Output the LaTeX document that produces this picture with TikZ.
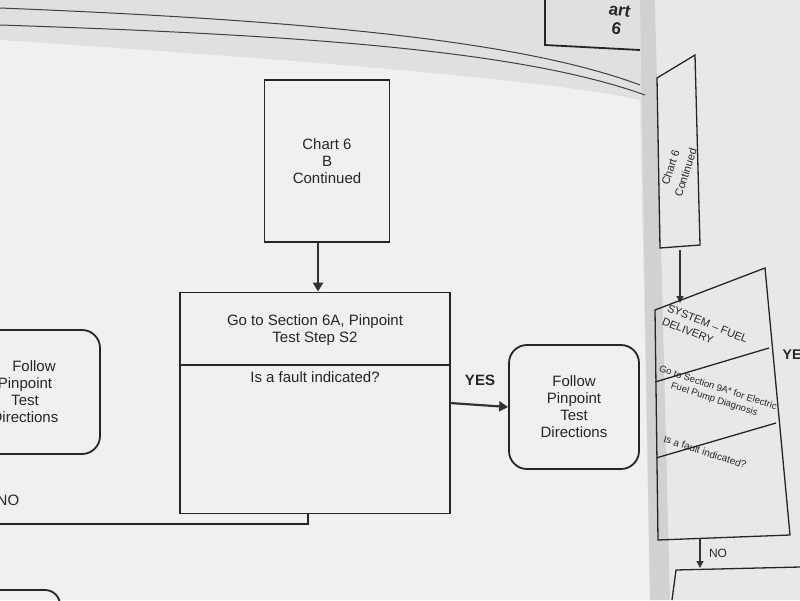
\documentclass[tikz,border=0pt]{standalone}
\usepackage{fontspec}
\setmainfont{Liberation Sans}
\usetikzlibrary{arrows.meta}
\begin{document}
\begin{tikzpicture}[x=1pt,y=-1pt,
  box/.style={draw=black!85,line width=1.8pt},
  pbox/.style={draw=black!85,line width=1.3pt},
  txt/.style={font=\fontsize{15}{17}\selectfont,align=center,text=black!85},
  stxt/.style={font=\fontsize{11}{14}\selectfont,align=center,text=black!85},
  arr/.style={line width=2.2pt,draw=black!80,-{Triangle[length=9pt,width=10pt]}},
  sarr/.style={line width=1.3pt,draw=black!80,-{Triangle[length=7pt,width=7pt]}}]
\useasboundingbox (0,0) rectangle (800,600);
\fill[black!12] (0,0) rectangle (800,600);
\fill[black!6] (0,40) .. controls (300,60) and (550,80) .. (640,100) -- (650,600) -- (0,600) -- cycle;
\fill[black!18] (640,0) -- (655,0) -- (670,600) -- (650,600) -- cycle;
\fill[black!9] (655,0) -- (800,0) -- (800,600) -- (670,600) -- cycle;
% page curves
\draw[black!75,line width=1pt] (0,8) .. controls (300,20) and (520,40) .. (640,85);
\draw[black!75,line width=1pt] (0,25) .. controls (300,35) and (520,50) .. (645,95);
% top box
\draw[box] (545,0) -- (545,45) -- (640,50);
\node[txt,font=\bfseries\fontsize{17}{19}\selectfont,rotate=-10] (tp) at (618,20) {art\\6};
% chart 6 B
\node[box,txt,minimum width=125pt,minimum height=162pt] (c6) at (327,161) {Chart 6\\B\\Continued};
% main decision box
\node[box,minimum width=270pt,minimum height=221pt] (dec) at (315,403) {};
\draw[box] (180,365) -- (450,365);
\node[txt] (t1) at (315,330) {Go to Section 6A, Pinpoint\\Test Step S2};
\node[txt,anchor=north] (t2) at (315,368) {Is a fault indicated?};
\coordinate (ca) at (318,243);
\draw[arr] (ca) -- (ca|-dec.north);
% yes box
\node[box,rounded corners=18pt,txt,minimum width=130pt,minimum height=124pt] (yes) at (574,407) {Follow\\Pinpoint\\Test\\Directions};
\coordinate (ys) at (450,403);
\draw[arr] (ys) -- (yes.west);
\node[txt,font=\bfseries\fontsize{15}{17}\selectfont] (yl) at (480,380) {YES};
% left box
\node[box,rounded corners=18pt,txt,minimum width=150pt,minimum height=124pt] (lb) at (25,392) {\hspace*{18pt}Follow\\Pinpoint\\Test\\Directions};
% NO line
\coordinate (n1) at (308,513);
\coordinate (n2) at (0,524);
\draw[box] (n1) |- (n2);
\node[txt] (nl) at (8,500) {NO};
\node[box,rounded corners=15pt,minimum width=80pt,minimum height=30pt] (bl) at (20,605) {};
% right page
\draw[pbox] (657,78) -- (695,55) -- (700,245) -- (660,248) -- cycle;
\node[stxt,rotate=72,font=\fontsize{11}{16}\selectfont] (rct) at (678,170) {Chart 6\\Continued};
\coordinate (ra) at (680,250);
\coordinate (rb) at (680,303);
\draw[sarr] (ra) -- (rb);
\draw[pbox] (655,310) -- (765,268) -- (790,535) -- (658,540) -- cycle;
\draw[pbox] (655,382) -- (769,348);
\draw[pbox] (656,458) -- (776,423);
\node[stxt,rotate=-22,align=left] (rd1) at (705,330) {SYSTEM -- FUEL\\DELIVERY};
\node[stxt,rotate=-18,font=\fontsize{9.5}{12}\selectfont] (rd2) at (716,394) {Go to Section 9A* for Electric\\Fuel Pump Diagnosis};
\node[stxt,rotate=-18,font=\fontsize{10}{12}\selectfont] (rd3) at (705,452) {Is a fault indicated?};
\coordinate (rn1) at (700,538);
\coordinate (rn2) at (700,568);
\draw[sarr] (rn1) -- (rn2);
\node[stxt,font=\fontsize{12}{14}\selectfont] (rnl) at (718,553) {NO};
\node[stxt,font=\bfseries\fontsize{14}{16}\selectfont] (ry) at (792,355) {YE};
\draw[pbox] (672,600) -- (676,570) -- (800,567);
\end{tikzpicture}
\end{document}
